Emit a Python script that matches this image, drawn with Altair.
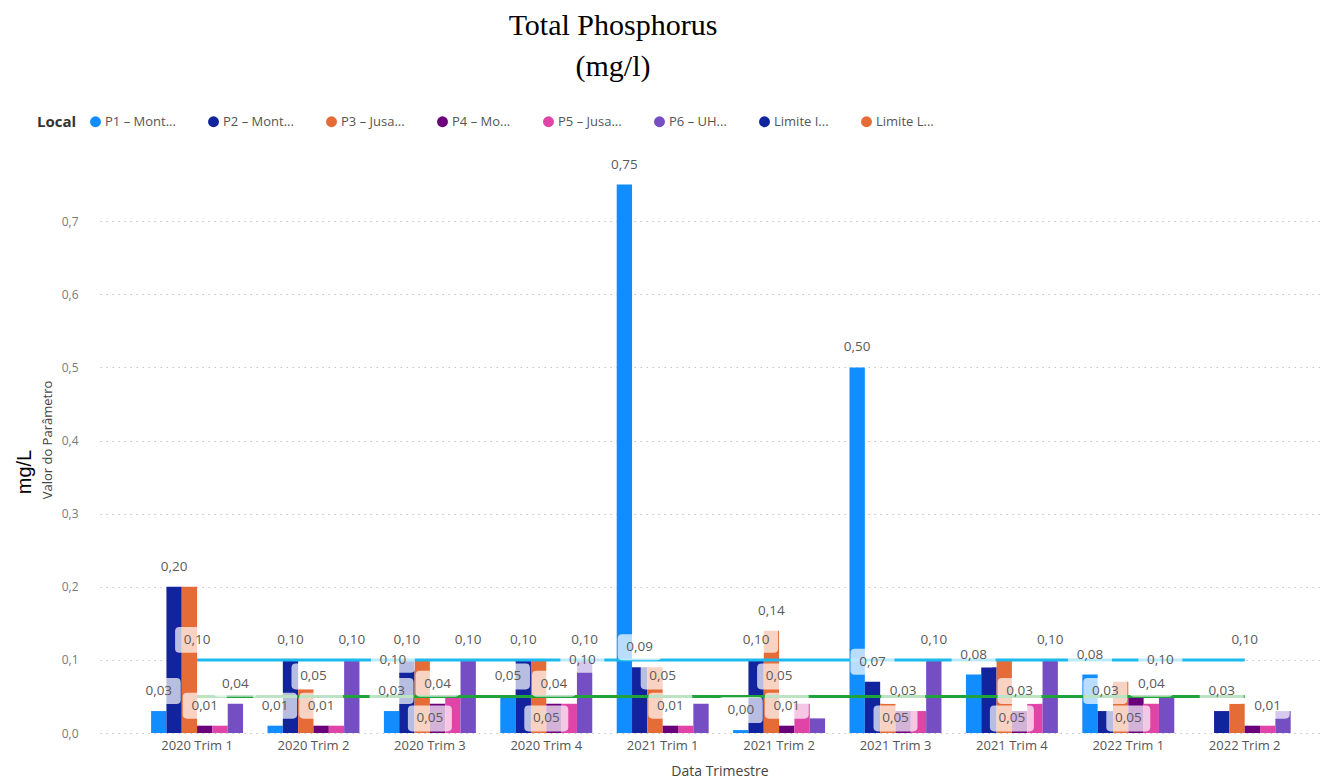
import altair as alt
import pandas as pd

# ---- data -------------------------------------------------------------
quarters = [
    "2020 Trim 1", "2020 Trim 2", "2020 Trim 3", "2020 Trim 4",
    "2021 Trim 1", "2021 Trim 2", "2021 Trim 3", "2021 Trim 4",
    "2022 Trim 1", "2022 Trim 2",
]
series_names = ["P1 – Mont...", "P2 – Mont...", "P3 – Jusa...", "P4 – Mo...", "P5 – Jusa...", "P6 – UH..."]
limit_names = ["Limite I...", "Limite L..."]

p1 = [0.03, 0.01, 0.03, 0.05, 0.75, 0.004, 0.50, 0.08, 0.08, None]
p2 = [0.20, 0.10, 0.10, 0.10, 0.09, 0.10, 0.07, 0.09, 0.03, 0.03]
p3 = [0.20, 0.06, 0.10, 0.10, 0.09, 0.14, 0.04, 0.10, 0.07, 0.04]
p4 = [0.01, 0.01, 0.04, 0.04, 0.01, 0.01, 0.03, 0.03, 0.05, 0.01]
p5 = [0.01, 0.01, 0.05, 0.04, 0.01, 0.04, 0.03, 0.04, 0.04, 0.01]
p6 = [0.04, 0.10, 0.10, 0.10, 0.04, 0.02, 0.10, 0.10, 0.05, 0.03]
limit_i = [0.10, 0.10, 0.10, 0.10, 0.10, 0.10, 0.10, 0.10, 0.10, 0.10]
limit_l = [0.05, 0.05, 0.05, 0.05, 0.05, 0.05, 0.05, 0.05, 0.05, 0.05]

# which bar values carry a visible data label: (quarter index, series index)
bar_labels = [
    (0, 0), (0, 1), (0, 3), (0, 5),
    (1, 0), (1, 1), (1, 3), (1, 5),
    (2, 0), (2, 1), (2, 3), (2, 5),
    (3, 0), (3, 1), (3, 3), (3, 5),
    (4, 0), (4, 1), (4, 3),
    (5, 0), (5, 1), (5, 2), (5, 3),
    (6, 0), (6, 1), (6, 3), (6, 5),
    (7, 0), (7, 3), (7, 5),
    (8, 0), (8, 1), (8, 4),
    (9, 1), (9, 4),
]
# limit-line labels: (quarter index, limit index, placement, horizontal shift)
line_labels = [
    (0, 0, "above", 0), (2, 0, "on", -37), (3, 0, "on", 36), (8, 0, "on", 32), (9, 0, "above", 0),
    (1, 1, "above", 0), (2, 1, "below", 0), (3, 1, "below", 0), (4, 1, "above", 0),
    (5, 1, "above", 0), (6, 1, "below", 0), (7, 1, "below", 0), (8, 1, "below", 0),
]

# ---- layout / styling -----------------------------------------------------
legend_colors = ["#118DFF", "#12239E", "#E66C37", "#6B007B", "#E044A7", "#744EC2", "#12239E", "#E66C37"]
line_colors = ["#1BB9EE", "#1FA33A"]
FONT = "Open Sans"
PLOT_W, PLOT_H, Y_MAX = 1222, 585, 0.8
PAD_IN, PAD_OUT, ALIGN = 0.21, 0.354, 0.62
STEP = PLOT_W / (len(quarters) - PAD_IN + 2 * PAD_OUT)
BAND_W = STEP * (1 - PAD_IN)                 # width of one quarter's group of bars
SUB_W = BAND_W / len(series_names)           # width of one bar inside a group
placement_dy = {"above": -20, "below": 22, "on": 0}


def fmt(v):
    return f"{v:.2f}".replace(".", ",")


series_values = [p1, p2, p3, p4, p5, p6]
bar_rows = []
for s, vals in zip(series_names, series_values):
    for q, v in zip(quarters, vals):
        if v is not None:
            bar_rows.append({"quarter": q, "series": s, "value": v})
bars_df = pd.DataFrame(bar_rows)

limit_values = [limit_i, limit_l]
line_rows = []
for name, vals in zip(limit_names, limit_values):
    for q, v in zip(quarters, vals):
        line_rows.append({"quarter": q, "series": name, "value": v})
lines_df = pd.DataFrame(line_rows)

# labels: anchored on the value; dx is measured from the start of the quarter's band,
# dy nudges the label above / below the anchor
lab_rows = []
for qi, si in bar_labels:
    v = series_values[si][qi]
    lab_rows.append({"quarter": quarters[qi], "value": v, "text": fmt(v),
                     "dx": (si + 0.5) * SUB_W, "dy": placement_dy["above"]})
for qi, li, place, shift in line_labels:
    v = limit_values[li][qi]
    lab_rows.append({"quarter": quarters[qi], "value": v, "text": fmt(v),
                     "dx": BAND_W / 2 + shift, "dy": placement_dy[place]})
labels_df = pd.DataFrame(lab_rows)
label_y_expr = f"datum.value - datum.dy * {Y_MAX} / {PLOT_H}"

# ---- encodings -----------------------------------------------------------
x_scale = alt.Scale(domain=quarters, paddingInner=PAD_IN, paddingOuter=PAD_OUT, align=ALIGN)
x_axis = alt.Axis(title=None, labelAngle=0, ticks=False, domain=False, grid=False,
                  labelFont=FONT, labelFontSize=13, labelColor="#555", labelPadding=6)
x_enc = alt.X("quarter:N", sort=quarters, scale=x_scale, axis=x_axis)
x_mid = alt.X("quarter:N", sort=quarters, scale=x_scale, axis=x_axis, bandPosition=0.5)

y_scale = alt.Scale(domain=[0, Y_MAX], nice=False, zero=True)
y_axis = alt.Axis(title=None, values=[0, 0.1, 0.2, 0.3, 0.4, 0.5, 0.6, 0.7],
                  labelExpr="replace(format(datum.value, '.1f'), '.', ',')",
                  ticks=False, domain=False, grid=True, gridDash=[1.5, 4.5],
                  gridColor="#c4c4c4", gridWidth=1, labelFont=FONT, labelFontSize=12,
                  labelColor="#7a7a7a", labelPadding=22)
y_enc = alt.Y("value:Q", scale=y_scale, axis=y_axis)
y_lab = alt.Y("ly:Q", scale=y_scale, axis=y_axis)

box_path = ("M -0.8 -0.59 L 0.8 -0.59 Q 1 -0.59 1 -0.39 L 1 0.39 Q 1 0.59 0.8 0.59 "
            "L -0.8 0.59 Q -1 0.59 -1 0.39 L -1 -0.39 Q -1 -0.59 -0.8 -0.59 Z")

bars = alt.Chart(bars_df).mark_bar(size=SUB_W).encode(
    x=x_enc, y=y_enc,
    xOffset=alt.XOffset("series:N", scale=alt.Scale(domain=series_names, paddingInner=0, paddingOuter=0)),
    color=alt.Color(
        "series:N",
        scale=alt.Scale(domain=series_names + limit_names, range=legend_colors),
        legend=alt.Legend(
            title="Local", orient="none", legendX=-63, legendY=-33, direction="horizontal",
            columns=8, titleOrient="left", titleFont=FONT, titleFontSize=15,
            titleFontWeight="bold", titleColor="#333", titlePadding=12,
            labelFont=FONT, labelFontSize=13, labelColor="#555", labelLimit=200,
            labelOffset=3, symbolType="circle", symbolSize=120, symbolStrokeWidth=0,
            columnPadding=31,
        ),
    ),
)

line_layers = []
for name, col in zip(limit_names, line_colors):
    line_layers.append(
        alt.Chart(lines_df[lines_df["series"] == name]).mark_line(strokeWidth=3, color=col)
        .encode(x=x_mid, y=y_enc)
    )

label_base = alt.Chart(labels_df).transform_calculate(ly=label_y_expr).encode(
    x=x_enc, y=y_lab, xOffset=alt.XOffset("dx:Q", scale=None)
)
label_boxes = label_base.mark_point(shape=box_path, size=1936, filled=True, fill="white",
                                    fillOpacity=0.7, opacity=1, strokeWidth=0)
label_text = label_base.mark_text(font=FONT, fontSize=13.5, color="#5a5a5a",
                                  align="center", baseline="middle").encode(text="text:N")


def free_text(txt, x, y, **kw):
    return alt.Chart(pd.DataFrame({"t": [txt]})).mark_text(**kw).encode(
        x=alt.value(x), y=alt.value(y), text="t:N"
    )


title1 = free_text("Total Phosphorus", 513, -113, font="Liberation Serif", fontSize=30,
                   color="#000", align="center", baseline="alphabetic")
title2 = free_text("(mg/l)", 513, -72, font="Liberation Serif", fontSize=30,
                   color="#000", align="center", baseline="alphabetic")
unit_t = free_text("mg/L", -75, 324, font="Liberation Sans", fontSize=20, color="#000",
                   angle=270, align="center", baseline="middle")
ytitle = free_text("Valor do Parâmetro", -52, 292, font=FONT, fontSize=13, color="#444",
                   angle=270, align="center", baseline="middle")
xtitle = free_text("Data Trimestre", 620, 624, font=FONT, fontSize=14, color="#444",
                   align="center", baseline="middle")

chart = alt.layer(
    bars, *line_layers, label_boxes, label_text,
    title1, title2, unit_t, ytitle, xtitle,
).resolve_scale(xOffset="independent").properties(
    width=PLOT_W, height=PLOT_H,
    background="white",
    autosize=alt.AutoSizeParams(type="none"),
    padding={"left": 100, "top": 148, "right": 8, "bottom": 50},
).configure_view(strokeWidth=0)

chart.save("out.html", embed_options={"renderer": "svg", "actions": False})
